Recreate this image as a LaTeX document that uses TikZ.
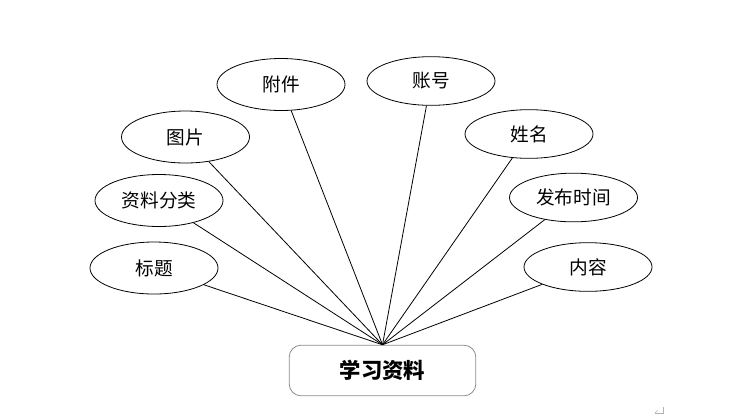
\documentclass[tikz,border=0pt]{standalone}
\usepackage{fontspec}
\setmainfont{Noto Sans CJK SC}
\usepackage{xcolor}
\usepackage{tikz}
\usetikzlibrary{shapes.geometric}
\definecolor{boxline}{HTML}{8C8C8C}
\tikzset{
  attr/.style={ellipse,draw=black,line width=0.6pt,inner sep=0pt,
    minimum width=96pt,minimum height=39pt,font=\fontsize{14}{16}\selectfont},
  attrR/.style={attr,minimum height=36.5pt},
  entitybox/.style={draw=boxline,line width=0.6pt,rounded corners=9pt,
    minimum width=140pt,minimum height=38pt,inner sep=0pt,
    font=\fontsize{16}{18}\selectfont\bfseries},
  link/.style={black,line width=0.6pt}
}
\newcommand{\parmark}{%
  \draw[gray!60,line width=0.5pt] (663,407) -- (663,413) -- (655,413);
  \draw[gray!60,line width=0.5pt] (655,413) -- (658,410);
}

\begin{document}
\begin{tikzpicture}[x=0.75pt,y=-0.75pt]
\useasboundingbox (0,0) rectangle (734,419);
\node[entitybox] (study) at (382.5,370.5) {学习资料};
\node[attr] (title) at (154,268) {标题};
\node[attr] (category) at (159,200.5) {资料分类};
\node[attr] (picture) at (185.5,137) {图片};
\node[attr] (attach) at (281,84.5) {附件};
\node[attrR] (account) at (431,81) {账号};
\node[attrR] (name) at (529,134) {姓名};
\node[attrR] (pubtime) at (573.5,197.5) {发布时间};
\node[attrR] (content) at (588,267) {内容};
\foreach \a in {title,category,picture,attach,account,name,pubtime,content}
  \draw[link] (\a) -- (study.north);
\parmark
\end{tikzpicture}
\end{document}
